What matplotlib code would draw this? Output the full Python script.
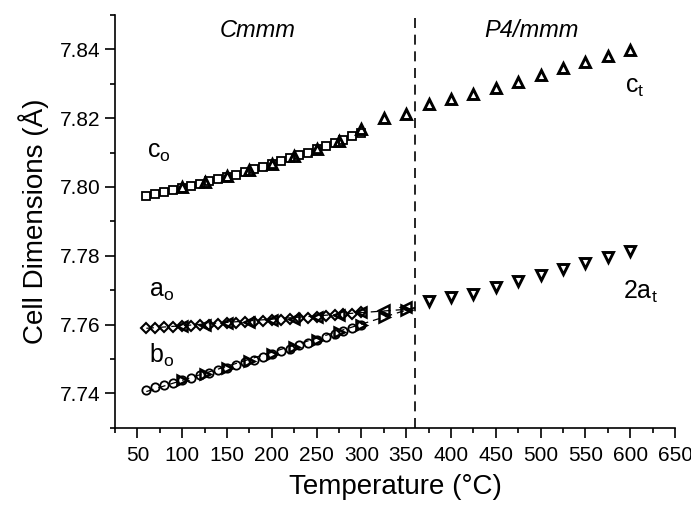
import matplotlib
matplotlib.use("Agg")
import matplotlib.pyplot as plt

plt.rcParams['font.family'] = ['Liberation Sans', 'DejaVu Sans']
plt.rcParams['mathtext.fontset'] = 'custom'
plt.rcParams['mathtext.rm'] = 'Liberation Sans'
plt.rcParams['mathtext.it'] = 'Liberation Sans:italic'

# orthorhombic (Cmmm) data, every 10 C
t_fine = [60, 70, 80, 90, 100, 110, 120, 130, 140, 150, 160, 170, 180,
          190, 200, 210, 220, 230, 240, 250, 260, 270, 280, 290, 300]
c_o = [7.7975, 7.7980, 7.7986, 7.7992, 7.7998, 7.8004, 7.8010, 7.8016, 7.8022,
       7.8029, 7.8036, 7.8043, 7.8051, 7.8059, 7.8067, 7.8075, 7.8083, 7.8092,
       7.8100, 7.8109, 7.8118, 7.8127, 7.8137, 7.8147, 7.8157]
a_o = [7.7590, 7.7591, 7.7592, 7.7594, 7.7595, 7.7597, 7.7598, 7.7600, 7.7601,
       7.7603, 7.7605, 7.7606, 7.7608, 7.7610, 7.7612, 7.7614, 7.7616, 7.7618,
       7.7620, 7.7622, 7.7625, 7.7627, 7.7630, 7.7632, 7.7635]
b_o = [7.7410, 7.7417, 7.7424, 7.7431, 7.7438, 7.7445, 7.7452, 7.7460, 7.7467,
       7.7475, 7.7482, 7.7490, 7.7498, 7.7506, 7.7514, 7.7522, 7.7530, 7.7539,
       7.7547, 7.7556, 7.7564, 7.7573, 7.7582, 7.7591, 7.7600]

# second data set, every 25 C
t_ab = [100, 125, 150, 175, 200, 225, 250, 275, 300, 325, 350]
a_left = [7.7595, 7.7599, 7.7603, 7.7607, 7.7612, 7.7617, 7.7622, 7.7628,
          7.7635, 7.7642, 7.7650]
b_right = [7.7438, 7.7456, 7.7475, 7.7494, 7.7514, 7.7535, 7.7556, 7.7578,
           7.7600, 7.7622, 7.7642]

t_c = [100, 125, 150, 175, 200, 225, 250, 275, 300, 325, 350, 375, 400,
       425, 450, 475, 500, 525, 550, 575, 600]
c_up = [7.8000, 7.8015, 7.8031, 7.8048, 7.8068, 7.8089, 7.8110, 7.8133,
        7.8168, 7.8200, 7.8213, 7.8240, 7.8257, 7.8270, 7.8288, 7.8305,
        7.8325, 7.8345, 7.8364, 7.8380, 7.8398]

# tetragonal (P4/mmm) 2a_t
t_t = [375, 400, 425, 450, 475, 500, 525, 550, 575, 600]
a2_t = [7.7667, 7.7680, 7.7690, 7.7709, 7.7726, 7.7743, 7.7762, 7.7779,
        7.7797, 7.7814]

# linear extrapolations of a_o and b_o
t_fit = [60, 360]
a_fit = [7.7589, 7.7646]
b_fit = [7.7405, 7.7650]

t_transition = 360

fig = plt.figure(figsize=(6.91, 5.05), dpi=100)
ax = fig.add_axes([0.1664, 0.1531, 0.8105, 0.8172])

mk = dict(linestyle='none', markerfacecolor='none', markeredgecolor='black')

ax.plot(t_fit, a_fit, color='black', lw=0.9, ls=(0, (6, 4)))
ax.plot(t_fit, b_fit, color='black', lw=0.9, ls=(0, (6, 4)))

ax.plot(t_fine, c_o, marker='s', markersize=6, markeredgewidth=1.3, **mk)
ax.plot(t_fine, a_o, marker='D', markersize=5, markeredgewidth=1.5, **mk)
ax.plot(t_fine, b_o, marker='o', markersize=6, markeredgewidth=1.3, **mk)
ax.plot(t_ab, a_left, marker='<', markersize=7, markeredgewidth=1.8, **mk)
ax.plot(t_ab, b_right, marker='>', markersize=7, markeredgewidth=1.8, **mk)
ax.plot(t_c, c_up, marker='^', markersize=7.5, markeredgewidth=2.1, **mk)
ax.plot(t_t, a2_t, marker='v', markersize=7.5, markeredgewidth=2.1, **mk)

ax.axvline(t_transition, color='black', lw=1.2, ls=(0, (6, 4)))

ax.set_xlim(25, 650)
ax.set_ylim(7.73, 7.85)
ax.set_xticks(range(50, 651, 50))
ax.set_xticks(range(25, 651, 50), minor=True)
ax.set_yticks([7.74, 7.76, 7.78, 7.80, 7.82, 7.84])
ax.set_yticklabels(['7.74', '7.76', '7.78', '7.80', '7.82', '7.84'])
ax.set_yticks([7.73, 7.75, 7.77, 7.79, 7.81, 7.83, 7.85], minor=True)

for s in ['top', 'right']:
    ax.spines[s].set_visible(False)
for s in ['left', 'bottom']:
    ax.spines[s].set_linewidth(1.2)
ax.tick_params(which='major', length=7, width=1.2, labelsize=15, direction='out')
ax.tick_params(which='minor', length=3.5, width=1.2, direction='out')
ax.tick_params(axis='x', pad=6)

ax.set_xlabel('Temperature (°C)', fontsize=20, labelpad=7)
ax.set_ylabel('Cell Dimensions (Å)', fontsize=20, labelpad=8)

ax.text(184, 7.8455, 'Cmmm', fontsize=17, style='italic', ha='center', va='center')
ax.text(490, 7.8455, 'P4/mmm', fontsize=17, style='italic', ha='center', va='center')

lab = dict(fontsize=18, ha='left', va='center')
ax.text(61, 7.8103, r'c$_{\mathrm{o}}$', **lab)
ax.text(63, 7.7697, r'a$_{\mathrm{o}}$', **lab)
ax.text(63, 7.7510, r'b$_{\mathrm{o}}$', **lab)
ax.text(594, 7.8290, r'c$_{\mathrm{t}}$', **lab)
ax.text(592, 7.7694, r'2a$_{\mathrm{t}}$', **lab)

fig.savefig('out.png', dpi=100)
